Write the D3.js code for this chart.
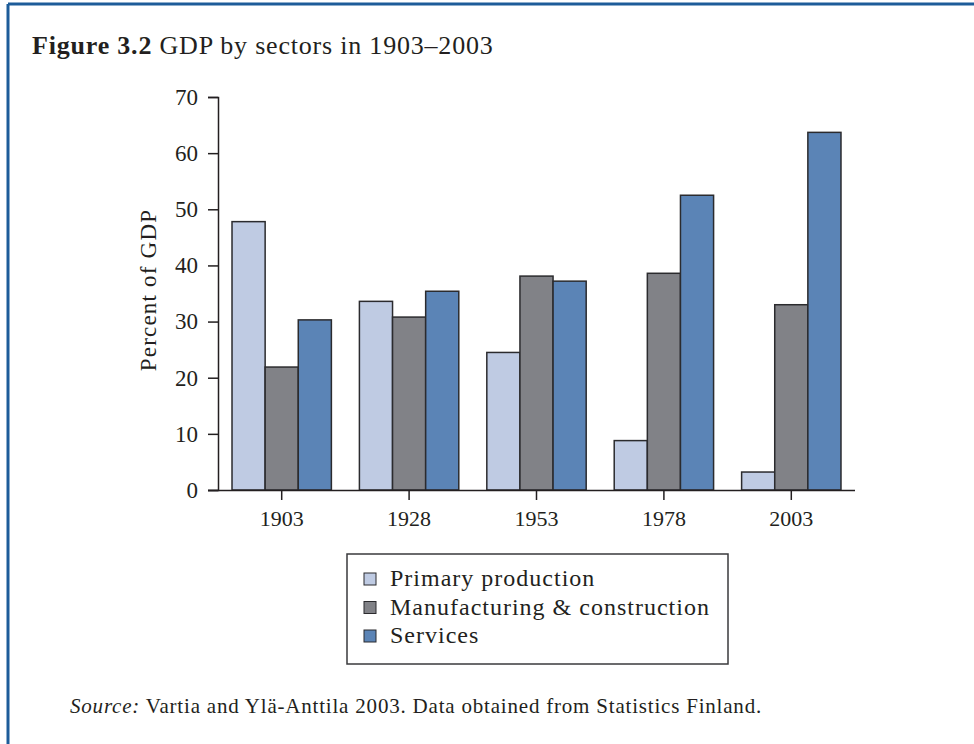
<!DOCTYPE html>
<html>
<head>
<meta charset="utf-8">
<script src="https://cdn.jsdelivr.net/npm/d3@7"></script>
<style>
  body { margin: 0; background: #fff; }
  text { font-family: "Liberation Serif", "DejaVu Serif", serif; fill: #231f20; }
</style>
</head>
<body>
<svg id="chart" width="974" height="744"></svg>
<script>
// data
var years = ["1903", "1928", "1953", "1978", "2003"];
var sectors = ["Primary production", "Manufacturing & construction", "Services"];
var primary = [47.8, 33.6, 24.5, 8.8, 3.2];
var manufacturing = [21.9, 30.8, 38.1, 38.6, 33.0];
var services = [30.3, 35.4, 37.2, 52.5, 63.7];
var yTicks = [0, 10, 20, 30, 40, 50, 60, 70];

var colors = ["#bfcbe3", "#818287", "#5b84b6"];
var series = [primary, manufacturing, services];

var svg = d3.select("#chart");

// blue frame (top + left edge)
svg.append("line").attr("x1", 8).attr("x2", 974).attr("y1", 4).attr("y2", 4)
  .attr("stroke", "#1d5c99").attr("stroke-width", 3);
svg.append("line").attr("x1", 8).attr("x2", 8).attr("y1", 4).attr("y2", 744)
  .attr("stroke", "#1d5c99").attr("stroke-width", 3);

// title
var title = svg.append("text").attr("x", 32).attr("y", 54)
  .style("font-size", "26px").style("letter-spacing", "0.8px");
title.append("tspan").style("font-weight", "bold").text("Figure 3.2");
title.append("tspan").text(" GDP by sectors in 1903\u20132003");

var x0 = d3.scaleBand().domain(years).range([218, 855]).paddingInner(0.22).paddingOuter(0.11);
var x1 = d3.scaleBand().domain(d3.range(sectors.length)).range([0, x0.bandwidth()]);
var y = d3.scaleLinear().domain([0, 70]).range([490, 97]);

var rows = years.map(function(yr, i) {
  return { year: yr, vals: series.map(function(s, k) { return { k: k, v: s[i] }; }) };
});

var g = svg.append("g");

g.selectAll("g.grp").data(rows).enter().append("g").attr("class", "grp")
  .attr("transform", function(d) { return "translate(" + x0(d.year) + ",0)"; })
  .selectAll("rect").data(function(d) { return d.vals; }).enter().append("rect")
  .attr("x", function(d) { return x1(d.k); })
  .attr("y", function(d) { return y(d.v); })
  .attr("width", x1.bandwidth())
  .attr("height", function(d) { return y(0) - y(d.v); })
  .attr("fill", function(d) { return colors[d.k]; })
  .attr("stroke", "#2b2b2e").attr("stroke-width", 1.5);

// y axis
var yAxis = g.append("g").attr("transform", "translate(218,0)")
  .call(d3.axisLeft(y).tickValues(yTicks).tickSize(10).tickPadding(10));
yAxis.select(".domain").attr("stroke", "#231f20").attr("stroke-width", 1.5);
yAxis.selectAll(".tick line").attr("stroke", "#231f20").attr("stroke-width", 1.5);
yAxis.selectAll("text").style("font-size", "23px").style("font-family", "Liberation Serif").attr("fill", "#231f20");

// x axis
var xAxis = g.append("g").attr("transform", "translate(0,490)")
  .call(d3.axisBottom(x0).tickSize(10).tickPadding(10).tickSizeOuter(0));
xAxis.select(".domain").attr("d", "M208,0.5H855").attr("stroke", "#231f20").attr("stroke-width", 1.5);
xAxis.selectAll(".tick line").attr("stroke", "#231f20").attr("stroke-width", 1.5);
xAxis.selectAll("text").style("font-size", "22px").style("font-family", "Liberation Serif").attr("fill", "#231f20");

svg.append("text")
  .attr("transform", "translate(156,290) rotate(-90)")
  .attr("text-anchor", "middle").style("font-size", "23px").style("letter-spacing", "1.2px")
  .text("Percent of GDP");

// legend
var lg = svg.append("g").attr("transform", "translate(347,554)");
lg.append("rect").attr("width", 381).attr("height", 110)
  .attr("fill", "#fff").attr("stroke", "#3a3a3c").attr("stroke-width", 1.5);
var li = lg.selectAll("g.item").data(sectors).enter().append("g").attr("class", "item")
  .attr("transform", function(d, i) { return "translate(17," + (20 + i * 28.5) + ")"; });
li.append("rect").attr("width", 12).attr("height", 12).attr("y", -1)
  .attr("fill", function(d, i) { return colors[i]; })
  .attr("stroke", "#2b2b2e").attr("stroke-width", 1);
li.append("text").attr("x", 26).attr("y", 12).style("font-size", "24px").style("letter-spacing", "1px")
  .text(function(d) { return d; });

// source
var src = svg.append("text").attr("x", 70).attr("y", 713)
  .style("font-size", "21px").style("letter-spacing", "0.8px");
src.append("tspan").style("font-style", "italic").text("Source:");
src.append("tspan").text(" Vartia and Yl\u00e4-Anttila 2003. Data obtained from Statistics Finland.");
</script>
</body>
</html>
